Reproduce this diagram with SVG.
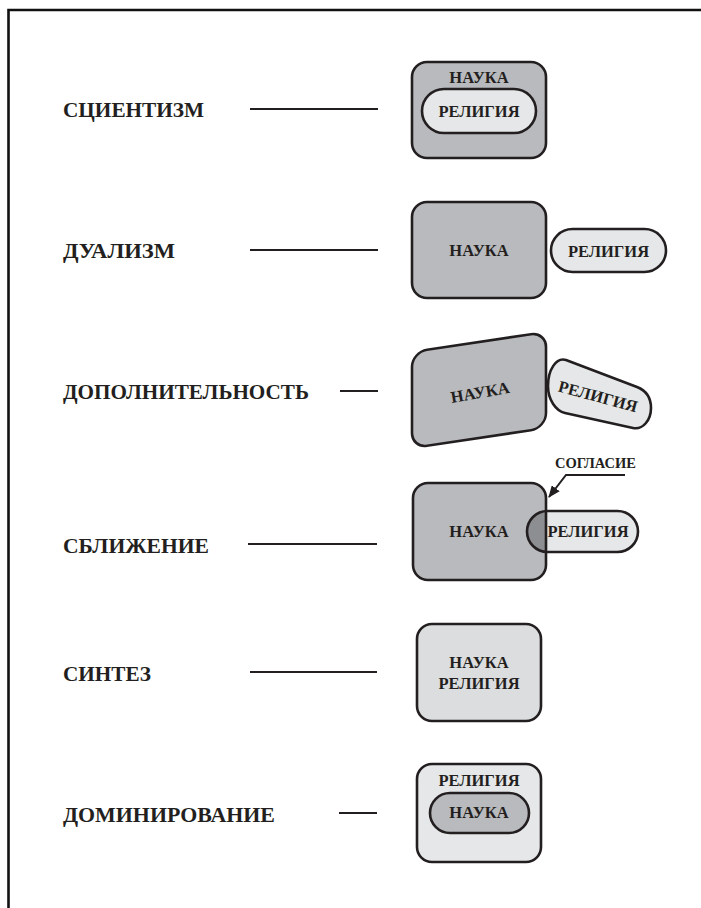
<svg xmlns="http://www.w3.org/2000/svg" width="701" height="908" viewBox="0 0 701 908">
<style>
text{font-family:'Liberation Serif','DejaVu Serif',serif;font-weight:bold;fill:#231f20}
.lbl{font-size:22px}
.nt{font-size:16.5px;text-anchor:middle}
.sm{font-size:14.5px;text-anchor:middle}
.sh{stroke:#231f20;stroke-width:2.6}
.mid{fill:#b9babd}
.lt{fill:#e6e7e8}
.syn{fill:#dcdddf}
.ln{stroke:#231f20;stroke-width:2;fill:none}
</style>
<defs>
<marker id="ah" viewBox="0 0 12 10" refX="11" refY="5" markerWidth="12" markerHeight="10" markerUnits="userSpaceOnUse" orient="auto">
<path d="M0,0 L12,5 L0,10 z" fill="#231f20"/>
</marker>
<clipPath id="boxclip"><rect x="413" y="483" width="133" height="97" rx="15"/></clipPath>
</defs>
<rect width="701" height="908" fill="#ffffff"/>
<path d="M8.5 908 L8.5 10 L701 10" fill="none" stroke="#111" stroke-width="2.6"/>

<g id="labels" font-family="Liberation Serif, DejaVu Serif, serif">
<text class="lbl" x="63" y="117" textLength="141" lengthAdjust="spacingAndGlyphs">СЦИЕНТИЗМ</text>
<text class="lbl" x="63" y="258" textLength="112" lengthAdjust="spacingAndGlyphs">ДУАЛИЗМ</text>
<text class="lbl" x="63" y="399" textLength="246" lengthAdjust="spacingAndGlyphs">ДОПОЛНИТЕЛЬНОСТЬ</text>
<text class="lbl" x="63" y="553" textLength="146" lengthAdjust="spacingAndGlyphs">СБЛИЖЕНИЕ</text>
<text class="lbl" x="63" y="681" textLength="88" lengthAdjust="spacingAndGlyphs">СИНТЕЗ</text>
<text class="lbl" x="63" y="822" textLength="212" lengthAdjust="spacingAndGlyphs">ДОМИНИРОВАНИЕ</text>
</g>

<g id="connectors">
<line class="ln" x1="250" y1="109" x2="378" y2="109"/>
<line class="ln" x1="250" y1="250" x2="378" y2="250"/>
<line class="ln" x1="340" y1="391" x2="378" y2="391"/>
<line class="ln" x1="248" y1="544" x2="377" y2="544"/>
<line class="ln" x1="250" y1="672" x2="377" y2="672"/>
<line class="ln" x1="339" y1="813" x2="377" y2="813"/>
<path class="ln" d="M625 475 L566 475 L549 497" marker-end="url(#ah)"/>
</g>

<g id="scientism">
<rect class="mid sh" x="412" y="62" width="134" height="96" rx="15"/>
<text class="nt" x="479" y="83">НАУКА</text>
<rect class="lt sh" x="422" y="89" width="114" height="44" rx="22"/>
<text class="nt" x="479" y="117">РЕЛИГИЯ</text>
</g>

<g id="dualism">
<rect class="mid sh" x="412" y="202" width="134" height="96" rx="15"/>
<text class="nt" x="479" y="256">НАУКА</text>
<rect class="lt sh" x="551" y="229" width="115" height="43" rx="21.5"/>
<text class="nt" x="608.5" y="257">РЕЛИГИЯ</text>
</g>

<g id="complementarity">
<path class="lt sh" d="M566 360 L637 387 C646 390.5 651 398 651 408 C651 420 643 430 633 428 L565 413 C556 411 548 400 548 386 C548 370 556 357 566 360 Z"/>
<text class="nt" x="598" y="402" transform="rotate(15 598 396)">РЕЛИГИЯ</text>
<g transform="translate(479 390) skewY(-8.5) translate(-479 -390)">
<rect class="mid sh" x="412" y="342" width="134" height="96" rx="15"/>
</g>
<text class="nt" x="480" y="398" transform="rotate(-10 480 392)">НАУКА</text>
</g>

<g id="convergence">
<rect class="mid" x="413" y="483" width="133" height="97" rx="15"/>
<rect class="lt" x="527" y="511" width="111" height="41" rx="20.5"/>
<rect x="527" y="511" width="111" height="41" rx="20.5" fill="#8d8e91" clip-path="url(#boxclip)"/>
<rect x="413" y="483" width="133" height="97" rx="15" fill="none" class="sh"/>
<rect x="527" y="511" width="111" height="41" rx="20.5" fill="none" class="sh"/>
<text class="nt" x="479" y="537">НАУКА</text>
<text class="nt" x="588" y="537">РЕЛИГИЯ</text>
<text class="sm" x="595.5" y="468">СОГЛАСИЕ</text>
</g>

<g id="synthesis">
<rect class="syn sh" x="417" y="624" width="124" height="97" rx="15"/>
<text class="nt" x="479" y="668">НАУКА</text>
<text class="nt" x="479" y="689">РЕЛИГИЯ</text>
</g>

<g id="domination">
<rect class="lt sh" x="417" y="764" width="124" height="98" rx="15"/>
<text class="nt" x="479" y="786">РЕЛИГИЯ</text>
<rect class="mid sh" x="430" y="793" width="99" height="40" rx="20"/>
<text class="nt" x="479" y="818">НАУКА</text>
</g>
</svg>
